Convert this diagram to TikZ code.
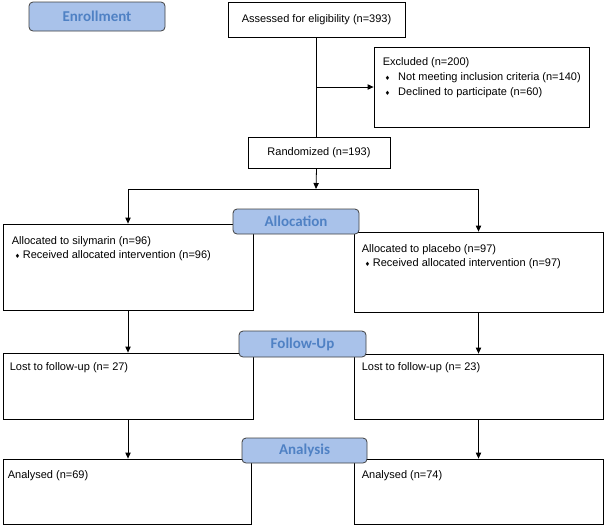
\documentclass[tikz,border=0pt]{standalone}
\usepackage{fontspec}
\setmainfont{Liberation Sans}
\newfontfamily\hdrfont{Carlito}
\newfontfamily\symfont{DejaVu Sans}
\usetikzlibrary{arrows.meta}
\usetikzlibrary{positioning}
\definecolor{hdrfill}{HTML}{A9C2EA}
\definecolor{hdrtext}{HTML}{4F81C4}
\definecolor{hdrline}{HTML}{404040}
\newcommand{\bul}[1][7.5pt]{\makebox[#1][l]{\symfont\fontsize{4.5}{5}\selectfont ♦}}
\tikzset{
  box/.style={draw, line width=0.6pt, inner sep=0pt, font=\fontsize{8.25}{10}\selectfont},
  hdr/.style={draw=hdrline, fill=hdrfill, rounded corners=3pt, line width=0.6pt, inner sep=0pt,
    text=hdrtext, font=\hdrfont\bfseries\fontsize{11.25}{13}\selectfont},
  txt/.style={inner sep=0pt, anchor=base west, font=\fontsize{8.25}{10}\selectfont},
  line/.style={line width=0.6pt},
  arr/.style={line, -{Triangle[length=4.5pt,width=4pt]}},
}

\begin{document}
\begin{tikzpicture}[x=0.75pt, y=-0.75pt]
    \useasboundingbox (0,0) rectangle (605,526);

    % enrollment
    \node[box, minimum width=132.75pt, minimum height=26.25pt] (assess) at (316.5,19.5) {Assessed for eligibility (n=393)};
    \node[box, minimum width=161.25pt, minimum height=60pt] (excl) at (481.5,87) {};
    \node[txt] (exclt) at ([shift={(9,19)}]excl.north west) {Excluded (n=200)};
    \node[txt] (exclb1) at ([shift={(2,15)}]exclt.base west) {\bul[10pt]Not meeting inclusion criteria (n=140)};
    \node[txt] (exclb2) at ([shift={(0,15)}]exclb1.base west) {\bul[10pt]Declined to participate (n=60)};
    \node[box, minimum width=106.5pt, minimum height=23.25pt] (rand) at (319,152.5) {Randomized (n=193)};

    % allocation
    \node[box, minimum width=187.5pt, minimum height=64.5pt] (alloca) at (128,267) {};
    \node[txt] (allocat) at ([shift={(9,21)}]alloca.north west) {Allocated to silymarin (n=96)};
    \node[txt] (allocab) at ([shift={(3,14)}]allocat.base west) {\bul[6pt]Received allocated intervention (n=96)};
    \node[box, minimum width=186.75pt, minimum height=60pt] (allocb) at (478.5,272) {};
    \node[txt] (allocbt) at ([shift={(8,21)}]allocb.north west) {Allocated to placebo (n=97)};
    \node[txt] (allocbb) at ([shift={(3,14)}]allocbt.base west) {\bul[6pt]Received allocated intervention (n=97)};

    % follow-up
    \node[box, minimum width=187.5pt, minimum height=49.5pt] (folla) at (128,386) {};
    \node[txt] (follat) at ([shift={(7,18)}]folla.north west) {Lost to follow-up (n= 27)};
    \node[box, minimum width=186.75pt, minimum height=48.75pt] (follb) at (478.5,386.5) {};
    \node[txt] (follbt) at ([shift={(8,17)}]follb.north west) {Lost to follow-up (n= 23)};

    % analysis
    \node[box, minimum width=186pt, minimum height=48.75pt] (anala) at (127,491.5) {};
    \node[txt] (analat) at ([shift={(5,20)}]anala.north west) {Analysed (n=69)};
    \node[box, minimum width=186.75pt, minimum height=48.75pt] (analb) at (478.5,491.5) {};
    \node[txt] (analbt) at ([shift={(8,20)}]analb.north west) {Analysed (n=74)};

    % connectors
    \coordinate (split) at (316,189);
    \draw[line] (assess.south) -- (assess.south |- rand.north);
    \draw[arr] (assess.south |- excl.west) -- (excl.west);
    \draw[arr] (assess.south |- rand.south) -- (split);
    \draw[line] (alloca.north |- split) -- (allocb.north |- split);
    \draw[arr] (alloca.north |- split) -- (alloca.north);
    \draw[arr] (allocb.north |- split) -- (allocb.north);
    \draw[arr] (alloca.south) -- (folla.north);
    \draw[arr] (allocb.south) -- (follb.north);
    \draw[arr] (folla.south) -- (folla.south |- anala.north);
    \draw[arr] (follb.south) -- (analb.north);

    % stage headers
    \node[hdr, minimum width=102pt, minimum height=21.75pt] (enroll) at (97,16.5) {Enrollment};
    \node[hdr, minimum width=94.5pt, minimum height=18.75pt] (allocation) at (296,221.5) {Allocation};
    \node[hdr, minimum width=95.25pt, minimum height=19.5pt] (followup) at (302.5,344) {Follow-Up};
    \node[hdr, minimum width=93.75pt, minimum height=18.75pt] (analysis) at (304.5,450.5) {Analysis};
\end{tikzpicture}
\end{document}
